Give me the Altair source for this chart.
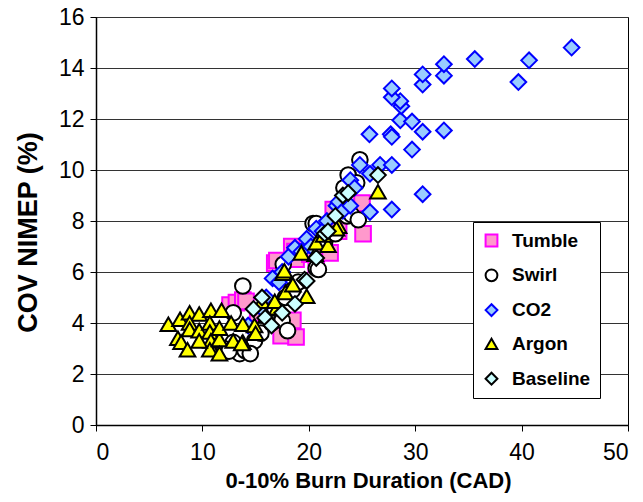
import altair as alt
import pandas as pd

series_names = ["Tumble", "Swirl", "CO2", "Argon", "Baseline"]

tumble_x = [12.6, 13.2, 13.8, 14.1, 16.8, 17.0, 18.4, 18.7, 18.8, 20.1, 20.7, 21.3, 22.0, 22.3, 22.8, 23.9, 25.0, 25.1, 17.4, 18.8, 18.5, 15.2]
tumble_y = [4.7, 4.8, 4.9, 4.85, 6.35, 6.45, 7.0, 6.8, 6.5, 6.7, 6.3, 6.9, 6.75, 8.45, 7.6, 8.5, 8.7, 7.5, 3.5, 3.45, 4.1, 4.4]

swirl_x = [13.8, 12.9, 12.9, 13.5, 14.0, 14.9, 15.5, 16.5, 17.5, 18.0, 17.8, 18.5, 17.6, 19.0, 20.7, 20.9, 20.4, 20.7, 21.5, 22.5, 23.6, 24.0, 24.65, 23.7, 24.8, 24.5, 23.3, 12.0, 12.5, 14.5]
swirl_y = [5.45, 4.4, 3.24, 2.8, 2.92, 3.3, 3.6, 4.0, 4.1, 3.7, 5.0, 5.3, 6.3, 5.6, 6.15, 6.1, 7.9, 7.9, 7.2, 7.5, 8.2, 8.25, 8.05, 9.8, 10.4, 9.5, 9.3, 3.0, 2.9, 2.8]

co2_x = [14.3, 15.5, 16.0, 16.6, 17.2, 17.5, 18.1, 18.7, 19.3, 19.8, 20.2, 20.7, 21.3, 21.7, 22.6, 22.8, 23.2, 23.9, 23.9, 24.3, 24.8, 25.75, 26.7, 27.8, 25.75, 27.8, 30.7, 29.7, 25.7, 27.7, 27.8, 30.7, 32.7, 28.6, 29.7, 28.7, 28.6, 27.8, 27.8, 30.7, 30.7, 32.7, 32.7, 35.6, 40.7, 39.7, 44.7]
co2_y = [3.9, 4.6, 5.0, 5.75, 5.6, 6.0, 6.6, 6.95, 6.8, 7.3, 7.0, 7.7, 7.6, 8.0, 8.6, 8.75, 8.4, 8.6, 9.6, 9.3, 10.2, 9.85, 10.2, 10.2, 8.35, 8.45, 9.05, 10.8, 11.4, 11.4, 11.3, 11.5, 11.55, 11.95, 11.9, 12.5, 12.7, 12.85, 13.2, 13.35, 13.75, 13.7, 14.15, 14.35, 14.3, 13.45, 14.8]

argon_x = [6.8, 7.9, 8.8, 9.7, 10.8, 11.8, 8.8, 8.8, 7.7, 8.0, 8.6, 9.7, 10.7, 10.7, 10.8, 10.7, 11.6, 11.6, 11.6, 12.7, 12.9, 13.8, 13.8, 14.9, 13.7, 9.7, 15.0, 16.0, 17.0, 17.8, 15.6, 16.8, 17.6, 17.7, 18.5, 19.8, 19.3, 20.6, 20.7, 21.8, 21.4, 22.8, 22.6, 26.5]
argon_y = [3.95, 4.15, 4.4, 4.35, 4.5, 4.5, 4.0, 3.75, 3.4, 3.25, 2.95, 3.7, 4.0, 3.65, 3.3, 2.95, 3.35, 2.8, 3.8, 4.0, 3.3, 3.25, 3.95, 3.9, 3.2, 3.3, 3.6, 4.3, 4.6, 5.2, 4.85, 4.85, 5.95, 6.05, 5.5, 5.05, 6.75, 6.7, 7.15, 7.05, 7.45, 7.8, 7.7, 9.15]

baseline_x = [14.8, 15.6, 15.9, 16.5, 17.5, 18.7, 19.6, 19.8, 20.7, 21.5, 21.8, 23.2, 23.7, 26.5, 22.5]
baseline_y = [4.55, 5.0, 4.2, 3.9, 4.4, 4.75, 5.7, 5.65, 6.55, 7.5, 7.6, 9.0, 9.1, 9.8, 8.2]

x_ticks = [0, 10, 20, 30, 40, 50]
y_ticks = [0, 2, 4, 6, 8, 10, 12, 14, 16]

fills = ["#FF99CC", "#FFFFFF", "#99CCFF", "#FFFF00", "#CCFFFF"]
strokes = ["#FF00FF", "#000000", "#0000FF", "#000000", "#000000"]
shapes = ["square", "circle", "diamond", "triangle-up", "diamond"]

all_series = [
    (tumble_x, tumble_y),
    (swirl_x, swirl_y),
    (co2_x, co2_y),
    (argon_x, argon_y),
    (baseline_x, baseline_y),
]
rows = []
for si, (name, (xs, ys)) in enumerate(zip(series_names, all_series)):
    for i, (xv, yv) in enumerate(zip(xs, ys)):
        rows.append({"series": name, "burn": xv, "cov": yv, "ord": si * 1000 + i})
df = pd.DataFrame(rows)

FONT = "Liberation Sans"

chart = alt.Chart(df).mark_point(filled=True, opacity=1, strokeOpacity=1, strokeWidth=2, size=245).encode(
    x=alt.X("burn:Q", scale=alt.Scale(domain=[0, 50], nice=False),
            axis=alt.Axis(values=x_ticks, title="0-10% Burn Duration (CAD)", grid=False,
                          labelPadding=10, titlePadding=6, titleX=272)),
    y=alt.Y("cov:Q", scale=alt.Scale(domain=[0, 16], nice=False),
            axis=alt.Axis(values=y_ticks, title="COV NIMEP (%)", grid=True,
                          labelPadding=6, titleFontSize=27, titleX=-54, titleY=215)),
    color=alt.Color("series:N", scale=alt.Scale(domain=series_names, range=fills), title=None),
    shape=alt.Shape("series:N", scale=alt.Scale(domain=series_names, range=shapes), title=None),
    stroke=alt.Stroke("series:N", scale=alt.Scale(domain=series_names, range=strokes), title=None),
    order=alt.Order("ord:Q"),
).properties(
    width=532, height=408,
    autosize=alt.AutoSizeParams(type="none"),
    padding={"left": 88, "top": 9, "right": 7, "bottom": 69},
).configure_view(
    stroke="#000000", strokeWidth=1
).configure_axis(
    domainColor="#000000", domainWidth=1.5, tickColor="#000000", tickSize=6, tickWidth=1,
    labelFont=FONT, labelFontSize=23, labelColor="#000000",
    titleFont=FONT, titleFontSize=22, titleFontWeight="bold", titleColor="#000000",
    gridColor="#333333", gridWidth=1,
).configure_legend(
    orient="none", legendX=377, legendY=205,
    strokeColor="#000000", fillColor="#FFFFFF", padding=9,
    symbolSize=140, symbolStrokeWidth=2,
    labelFont=FONT, labelFontSize=19, labelFontWeight="bold", labelColor="#000000",
    rowPadding=13.8, labelOffset=11,
)

chart.save("out.html", embed_options={"renderer": "svg", "actions": False})
